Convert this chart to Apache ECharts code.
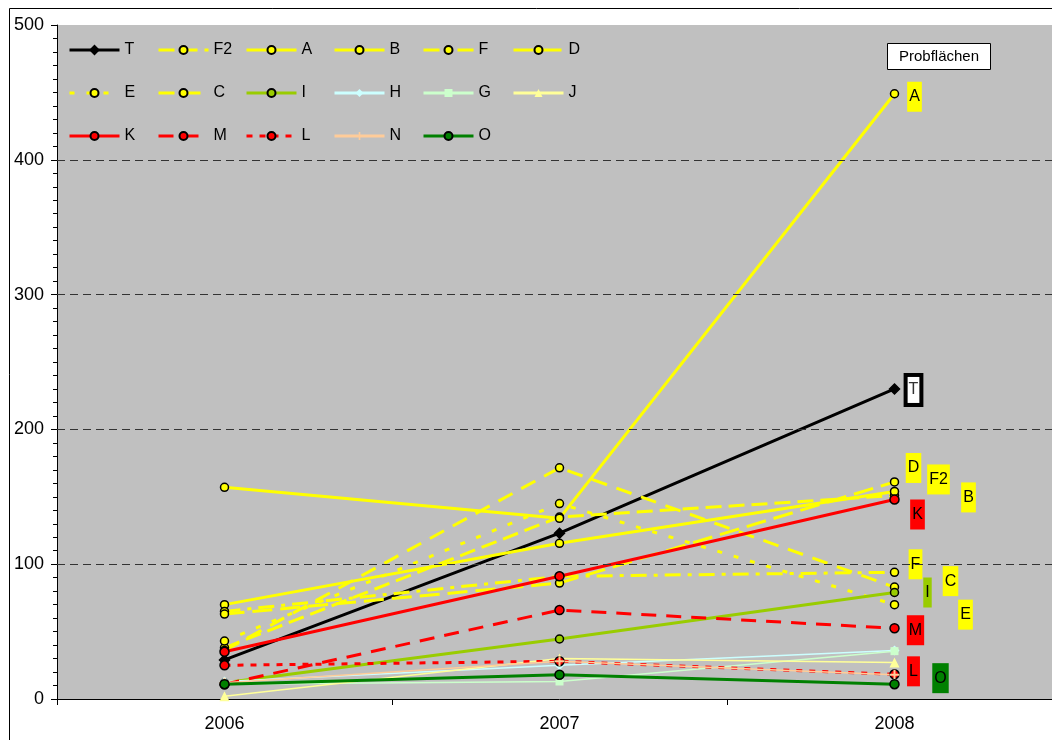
<!DOCTYPE html>
<html>
<head>
<meta charset="utf-8">
<script src="https://cdn.jsdelivr.net/npm/echarts@6/dist/echarts.min.js"></script>
<style>
html,body{margin:0;padding:0;background:#fff;overflow:hidden;}
#chart{width:1062px;height:740px;}
</style>
</head>
<body>
<div id="chart"></div>
<script>
// Survey plots, values per year
const years = ['2006', '2007', '2008'];
const gridValues = [100, 200, 300, 400];

const valT  = [29, 123, 230];
const valF2 = [38, 135, 151];
const valA  = [157, 134, 449];
const valB  = [70, 115.5, 154];
const valF  = [65, 91, 94];
const valD  = [63, 86, 161];
const valE  = [43, 145, 70];
const valC  = [36, 171.5, 83];
const valI  = [12, 44.5, 79];
const valH  = [13, 25, 36];
const valG  = [11, 13, 35.5];
const valJ  = [2, 30, 27];
const valK  = [35, 91, 148];
const valM  = [11, 66, 52.5];
const valL  = [25, 28, 18.3];
const valN  = [12, 28, 18];
const valO  = [11, 18, 11];

const FONT = '"Liberation Sans", Arial, sans-serif';
const YEL = '#FFFF00';
const RED = '#FF0000';
const PLUS = 'path://M4,0h2v4h4v2h-4v4h-2v-4h-4v-2h4z';

// Appearance of each plot line (style only)
const styles = {
  T:  {data: valT,  color: '#000000', width: 3, dash: 'solid', symbol: 'diamond', size: 10, fill: '#000', border: '#000', off: [19, 1], lbg: '#fff', special: true},
  F2: {data: valF2, color: YEL, width: 3, dash: [16, 7], symbol: 'circle', size: 8, fill: YEL, border: '#000', off: [44, -16], lbg: YEL},
  A:  {data: valA,  color: YEL, width: 3, dash: 'solid', symbol: 'circle', size: 8, fill: YEL, border: '#000', off: [20, 3], lbg: YEL},
  B:  {data: valB,  color: YEL, width: 3, dash: 'solid', symbol: 'circle', size: 8, fill: YEL, border: '#000', off: [74, 6], lbg: YEL},
  F:  {data: valF,  color: YEL, width: 3, dash: [16, 7, 4, 7], symbol: 'circle', size: 8, fill: YEL, border: '#000', off: [21, -8], lbg: YEL},
  D:  {data: valD,  color: YEL, width: 3, dash: [20, 8], symbol: 'circle', size: 8, fill: YEL, border: '#000', off: [19, -14], lbg: YEL},
  E:  {data: valE,  color: YEL, width: 3, dash: [5, 12], symbol: 'circle', size: 8, fill: YEL, border: '#000', off: [71, 10], lbg: YEL},
  C:  {data: valC,  color: YEL, width: 3, dash: [16, 10], symbol: 'circle', size: 8, fill: YEL, border: '#000', off: [56, -6], lbg: YEL},
  I:  {data: valI,  color: '#99CC00', width: 3, dash: 'solid', symbol: 'circle', size: 8, fill: '#99CC00', border: '#000', off: [33, 0], lbg: '#99CC00'},
  H:  {data: valH,  color: '#CCFFFF', width: 1.5, dash: 'solid', symbol: 'diamond', size: 10, fill: '#CCFFFF', border: '#CCFFFF', off: [0, 0], lbg: null},
  G:  {data: valG,  color: '#CCFFCC', width: 1.5, dash: 'solid', symbol: 'rect', size: 8, fill: '#CCFFCC', border: '#CCFFCC', off: [0, 0], lbg: null},
  J:  {data: valJ,  color: '#FFFF99', width: 1.5, dash: 'solid', symbol: 'triangle', size: 10, fill: '#FFFF99', border: '#FFFF99', off: [0, 0], lbg: null},
  K:  {data: valK,  color: RED, width: 3, dash: 'solid', symbol: 'circle', size: 9, fill: RED, border: '#000', off: [23, 15], lbg: RED},
  M:  {data: valM,  color: RED, width: 3, dash: [15, 10], symbol: 'circle', size: 9, fill: RED, border: '#000', off: [21, 2], lbg: RED},
  L:  {data: valL,  color: RED, width: 3, dash: [6, 7], symbol: 'circle', size: 9, fill: RED, border: '#000', off: [19, -3], lbg: RED},
  N:  {data: valN,  color: '#FFCC99', width: 1.5, dash: 'solid', symbol: PLUS, size: 10, fill: '#FFCC99', border: '#FFCC99', off: [0, 0], lbg: null},
  O:  {data: valO,  color: '#008000', width: 3, dash: 'solid', symbol: 'circle', size: 9, fill: '#008000', border: '#000', off: [46, -6], lbg: '#008000'}
};

const order = ['T', 'F2', 'A', 'B', 'F', 'D', 'E', 'C', 'I', 'H', 'G', 'J', 'K', 'M', 'L', 'N', 'O'];

function makeSeries(name) {
  const s = styles[name];
  const last = s.data.length - 1;
  const label = s.special
    ? {position: 'inside', offset: s.off, formatter: name, color: '#333', backgroundColor: '#fff',
       borderColor: '#000', borderWidth: 4, padding: [5, 1], fontSize: 16, fontFamily: FONT}
    : {position: 'inside', offset: s.off, formatter: name, color: '#000', backgroundColor: s.lbg,
       padding: [7, 2], lineHeight: 16, fontSize: 16, fontFamily: FONT};
  return {
    name: name,
    type: 'line',
    data: s.data.map((v, i) => (i === last && s.lbg) ? {value: v, label: Object.assign({show: true}, label)} : v),
    symbol: s.symbol,
    symbolSize: s.size,
    showAllSymbol: true,
    itemStyle: {color: s.fill, borderColor: s.border, borderWidth: s.border === '#000' ? 1.5 : 0},
    lineStyle: {color: s.color, width: s.width, type: s.dash},
    label: {show: false},
    emphasis: {disabled: true},
    animation: false
  };
}

// Dashed horizontal gridlines drawn beneath the plot lines
const gridSeries = {
  name: '_grid',
  type: 'line',
  data: [null, null, null],
  silent: true,
  markLine: {
    silent: true,
    symbol: 'none',
    animation: false,
    label: {show: false},
    lineStyle: {color: '#333', type: [8, 5], width: 1},
    emphasis: {disabled: true},
    data: gridValues.map(v => ({yAxis: v}))
  }
};

// Legend laid out as six columns of three rows
const legendCols = [['T', 'E', 'K'], ['F2', 'C', 'M'], ['A', 'I', 'L'], ['B', 'H', 'N'], ['F', 'G', 'O'], ['D', 'J']];
const legendX = [68, 157, 245, 333, 422, 512];
const legends = legendCols.map((col, i) => ({
  orient: 'vertical',
  left: legendX[i],
  top: 42,
  itemWidth: 50,
  itemHeight: 10,
  itemGap: 27,
  padding: 0,
  selectedMode: false,
  lineStyle: {width: 3},
  textStyle: {fontSize: 16, fontFamily: FONT, color: '#000', lineHeight: 16},
  data: col
}));

const chart = echarts.init(document.getElementById('chart'), null, {renderer: 'canvas'});
chart.setOption({
  backgroundColor: '#fff',
  animation: false,
  title: {
    text: 'Probflächen',
    left: 887,
    top: 43,
    padding: [6, 12],
    borderWidth: 1,
    borderColor: '#000',
    backgroundColor: '#fff',
    textStyle: {fontSize: 15, fontWeight: 'normal', fontFamily: FONT, color: '#000'}
  },
  legend: legends,
  grid: {left: 57, top: 25, right: 0, height: 674, show: true, backgroundColor: '#C0C0C0', borderWidth: 0},
  xAxis: {
    type: 'category',
    data: years,
    boundaryGap: true,
    axisLine: {lineStyle: {color: '#000', width: 1}},
    axisTick: {show: true, length: 6, lineStyle: {color: '#000'}},
    axisLabel: {fontSize: 18, fontFamily: FONT, color: '#000', margin: 16},
    splitLine: {show: false}
  },
  yAxis: {
    type: 'value',
    min: 0,
    max: 500,
    interval: 100,
    axisLine: {show: true, lineStyle: {color: '#000', width: 1}},
    axisTick: {show: true, length: 6, lineStyle: {color: '#000'}},
    minorTick: {show: true, splitNumber: 10, length: 4, lineStyle: {color: '#000'}},
    axisLabel: {fontSize: 18, fontFamily: FONT, color: '#000', margin: 13},
    splitLine: {show: false}
  },
  graphic: [{
    type: 'rect',
    left: 7, top: 6,
    shape: {width: 1100, height: 800},
    style: {fill: 'none', stroke: '#000', lineWidth: 1},
    silent: true,
    z: 100
  }],
  series: [gridSeries].concat(order.map(makeSeries))
});
</script>
</body>
</html>
